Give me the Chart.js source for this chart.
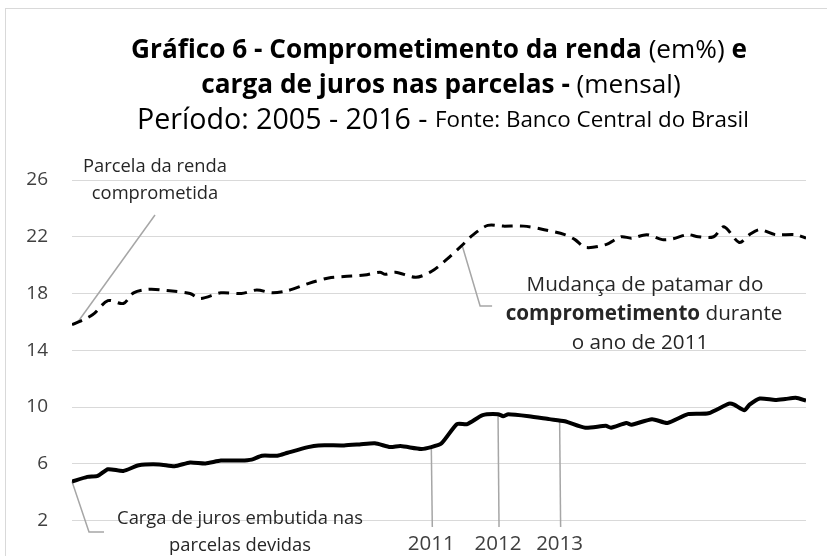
<!DOCTYPE html>
<html>
<head>
<meta charset="utf-8">
<script src="https://cdn.jsdelivr.net/npm/chart.js@4.4.1/dist/chart.umd.min.js"></script>
<style>
  html, body { margin: 0; padding: 0; background: #fff; }
</style>
</head>
<body>
<canvas id="grafico" width="827" height="556"></canvas>
<script>
// meses contados a partir de jan/2005 (0 = jan/2005 ... 143 = dez/2016)
const mesesRenda = [0, 4, 7, 10, 12, 15, 19, 23, 25, 29, 33, 36, 39, 42, 46, 50, 53, 57, 60, 61, 63, 67, 70, 73, 76, 78, 81, 84, 88, 92, 96, 98, 100, 104, 107, 109, 112, 115, 117, 120, 122, 125, 127, 130, 132, 134, 137, 141, 143];
const comprometimentoRenda = [15.8, 16.5, 17.5, 17.3, 18.05, 18.3, 18.2, 18.0, 17.65, 18.05, 18.0, 18.25, 18.05, 18.2, 18.7, 19.1, 19.2, 19.3, 19.5, 19.35, 19.5, 19.15, 19.55, 20.4, 21.4, 22.1, 22.8, 22.75, 22.75, 22.5, 22.15, 21.8, 21.25, 21.45, 22.0, 21.9, 22.15, 21.8, 21.85, 22.15, 22.0, 22.0, 22.7, 21.6, 22.15, 22.5, 22.15, 22.15, 21.9];

const mesesJuros = [0, 3, 5, 7, 10, 13, 17, 20, 23, 26, 29, 33, 35, 37, 40, 42, 46, 48, 53, 56, 59, 62, 64, 68, 70, 72, 75, 77, 80, 83, 84, 85, 89, 93, 96, 100, 104, 105, 108, 109, 113, 116, 120, 124, 128, 129, 131, 132, 134, 137, 139, 141, 143];
const cargaJuros = [4.75, 5.08, 5.15, 5.62, 5.5, 5.9, 5.96, 5.83, 6.1, 6.03, 6.23, 6.23, 6.3, 6.57, 6.57, 6.78, 7.18, 7.3, 7.3, 7.37, 7.45, 7.18, 7.25, 7.05, 7.18, 7.45, 8.8, 8.8, 9.43, 9.5, 9.36, 9.5, 9.36, 9.15, 9.0, 8.54, 8.68, 8.55, 8.88, 8.75, 9.15, 8.88, 9.5, 9.56, 10.24, 10.17, 9.77, 10.17, 10.6, 10.5, 10.57, 10.65, 10.45];

const ticksY = [2, 6, 10, 14, 18, 22, 26];

// marcos anotados sobre a linha de juros
const marcosAnos = ['2011', '2012', '2013'];
const mesesMarcos = [70, 83, 95];

const FONTE = '"Open Sans"';
const CINZA = '#a6a6a6';

// valor de uma série num mês qualquer (interpolação linear entre leituras)
function valorEm(meses, valores, m) {
    for (let i = 1; i < meses.length; i++) {
        if (m <= meses[i]) {
            const t = (m - meses[i - 1]) / (meses[i] - meses[i - 1]);
            return valores[i - 1] + t * (valores[i] - valores[i - 1]);
        }
    }
    return valores[valores.length - 1];
}

const fonte = (p, k) => (p[1] ? 'bold ' : '') + (p[2] * k).toFixed(2) + 'px ' + FONTE;

// fator que faz a linha ocupar a largura pedida
function escala(ctx, partes, largura) {
    let total = 0;
    partes.forEach(p => { ctx.font = fonte(p, 1); total += ctx.measureText(p[0]).width; });
    return largura / total;
}

// texto com trechos em negrito / tamanhos diferentes, centrado em cx
function textoRico(ctx, partes, cx, cy, k) {
    let total = 0;
    partes.forEach(p => { ctx.font = fonte(p, k); total += ctx.measureText(p[0]).width; });
    let x = cx - total / 2;
    ctx.textAlign = 'left';
    ctx.textBaseline = 'middle';
    partes.forEach(p => {
        ctx.font = fonte(p, k);
        ctx.fillText(p[0], x, cy);
        x += ctx.measureText(p[0]).width;
    });
}

function linha(ctx, pontos) {
    ctx.beginPath();
    ctx.moveTo(pontos[0][0], pontos[0][1]);
    pontos.slice(1).forEach(p => ctx.lineTo(p[0], p[1]));
    ctx.stroke();
}

const anotacoes = {
    id: 'anotacoes',
    beforeDatasetsDraw(chart) {
        const { ctx, scales: { x, y } } = chart;
        ctx.save();
        ctx.strokeStyle = CINZA;
        ctx.lineWidth = 1.5;

        // linhas verticais dos anos
        mesesMarcos.forEach(m => {
            const px = x.getPixelForValue(m);
            const py = y.getPixelForValue(valorEm(mesesJuros, cargaJuros, m));
            linha(ctx, [[px, py], [px + 1, 527]]);
        });

        // chamada "Parcela da renda comprometida"
        const r0x = x.getPixelForValue(mesesRenda[0]);
        const r0y = y.getPixelForValue(comprometimentoRenda[0]);
        linha(ctx, [[r0x + 6, r0y - 3], [155, 215]]);

        // chamada "Mudança de patamar"
        const mx = x.getPixelForValue(76);
        const my = y.getPixelForValue(valorEm(mesesRenda, comprometimentoRenda, 76));
        linha(ctx, [[mx, my], [mx + 18, 306], [mx + 30, 306]]);

        // chamada "Carga de juros"
        const j0x = x.getPixelForValue(mesesJuros[0]);
        const j0y = y.getPixelForValue(cargaJuros[0]);
        linha(ctx, [[j0x, j0y], [j0x + 17, 532], [j0x + 32, 532]]);
        ctx.restore();
    },
    afterDraw(chart) {
        const { ctx } = chart;
        ctx.save();

        // moldura
        ctx.strokeStyle = '#d9d9d9';
        ctx.lineWidth = 1;
        ctx.strokeRect(5.5, 8.5, 900, 600);

        // título
        const t1 = [['Gráfico 6 - Comprometimento da renda', true, 24], [' (em%) ', false, 24], ['e', true, 24]];
        const t2 = [['carga de juros nas parcelas -', true, 24], [' (mensal)', false, 24]];
        const t3 = [['Período: 2005 - 2016 - ', false, 23], ['Fonte: Banco Central do Brasil', false, 18]];
        const kt = escala(ctx, t1, 616);
        ctx.fillStyle = '#000';
        textoRico(ctx, t1, 439, 51, kt);
        textoRico(ctx, t2, 441, 86, kt);
        textoRico(ctx, t3, 443, 121, escala(ctx, t3, 612));

        // textos das chamadas
        ctx.fillStyle = '#262626';
        const kp = escala(ctx, [['Parcela da renda', false, 16]], 144);
        textoRico(ctx, [['Parcela da renda', false, 16]], 155, 167, kp);
        textoRico(ctx, [['comprometida', false, 16]], 155, 194, kp);

        const km = escala(ctx, [['Mudança de patamar do', false, 19]], 237);
        textoRico(ctx, [['Mudança de patamar do', false, 19]], 645, 285, km);
        textoRico(ctx, [['comprometimento', true, 19], [' durante', false, 19]], 644, 314, km);
        textoRico(ctx, [['o ano de 2011', false, 19]], 640, 343, km);

        const kc = escala(ctx, [['Carga de juros embutida nas', false, 17]], 246);
        textoRico(ctx, [['Carga de juros embutida nas', false, 17]], 240, 519, kc);
        textoRico(ctx, [['parcelas devidas', false, 17]], 240, 546, kc);

        ctx.fillStyle = '#404040';
        const ka = escala(ctx, [['2011', false, 18]], 47);
        marcosAnos.forEach((ano, i) => {
            const px = chart.scales.x.getPixelForValue(mesesMarcos[i]);
            textoRico(ctx, [[ano, false, 18]], px, 544, ka);
        });
        ctx.restore();
    }
};

const config = {
    type: 'line',
    data: {
        datasets: [{
            label: 'Comprometimento da renda',
            data: mesesRenda.map((m, i) => ({ x: m, y: comprometimentoRenda[i] })),
            borderColor: '#000',
            borderWidth: 3,
            borderDash: [11, 7],
            pointRadius: 0,
            tension: 0.3,
            fill: false
        }, {
            label: 'Carga de juros',
            data: mesesJuros.map((m, i) => ({ x: m, y: cargaJuros[i] })),
            borderColor: '#000',
            borderWidth: 4,
            pointRadius: 0,
            tension: 0.2,
            fill: false
        }]
    },
    options: {
        responsive: false,
        animation: false,
        layout: { padding: { top: 180, bottom: 23, left: 0, right: 21 } },
        scales: {
            x: { type: 'linear', min: 0, max: 143, display: false },
            y: {
                min: 2,
                max: 26,
                afterBuildTicks: s => { s.ticks = ticksY.map(v => ({ value: v })); },
                afterFit: s => { s.width = 72; },
                border: { display: false },
                grid: { color: '#d9d9d9', lineWidth: 1, drawTicks: false },
                ticks: { color: '#404040', padding: 24, font: { family: 'Open Sans', size: 19 } }
            }
        },
        plugins: {
            legend: { display: false },
            tooltip: { enabled: false }
        }
    },
    plugins: [anotacoes]
};

new Chart(document.getElementById('grafico'), config);
</script>
</body>
</html>
